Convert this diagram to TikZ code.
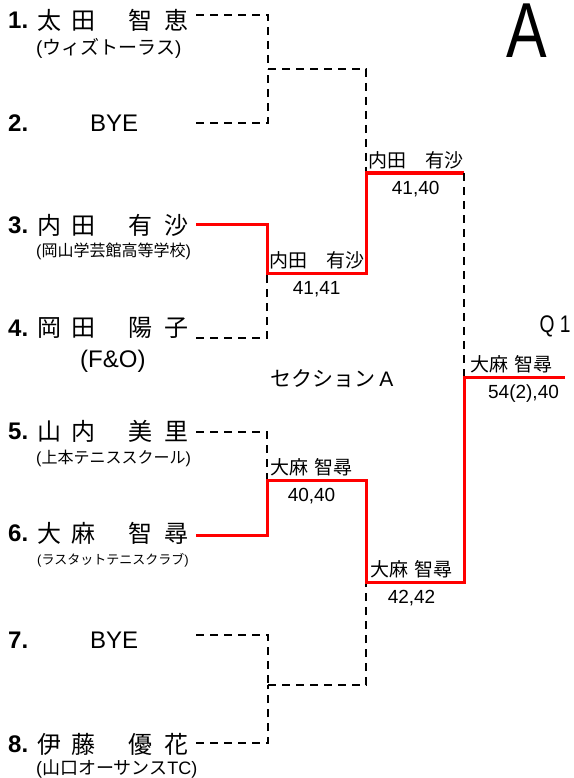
\documentclass[tikz,border=0pt]{standalone}
\usepackage{fontspec}
\setmainfont{Liberation Sans}
\newfontfamily\jp{Noto Sans CJK JP}
\usetikzlibrary{positioning}
\newcommand{\fsz}[1]{\fontsize{#1}{#1}\selectfont}
\newcommand{\pname}[4]{{\jp #1\hspace{0.45em}#2\hspace{1.35em}#3\hspace{0.5em}#4}}

\begin{document}
\begin{tikzpicture}[x=1pt,y=-1pt,
  win/.style={red,line width=3pt},
  lose/.style={black,line width=2.3pt,dash pattern=on 8pt off 6pt},
  num/.style={inner sep=0pt,anchor=west,font=\fsz{24}\bfseries},
  pnm/.style={inner sep=0pt,anchor=west,font=\fsz{24}},
  club/.style={inner sep=0pt,anchor=west},
  wname/.style={inner sep=0pt,font=\fsz{19}\jp},
  score/.style={inner sep=0pt,font=\fsz{19}}]
\useasboundingbox (0,0) rectangle (573,778);

% players
\node[num] (k1) at (8,20) {1.};
\node[pnm] (n1) at (37,20) {\pname{太}{田}{智}{恵}};
\node[club,font=\fsz{19}] (c1) at (36,48) {(\jp ウィズトーラス\rm)};
\node[num] (k2) at (8,123) {2.};
\node[pnm] (n2) at (90,123) {BYE};
\node[num] (k3) at (8,225) {3.};
\node[pnm] (n3) at (37,225) {\pname{内}{田}{有}{沙}};
\node[club,font=\fsz{16}] (c3) at (36,251) {(\jp 岡山学芸館高等学校\rm)};
\node[num] (k4) at (8,328) {4.};
\node[pnm] (n4) at (37,328) {\pname{岡}{田}{陽}{子}};
\node[club,font=\fsz{24}] (c4) at (80,361) {(F\&O)};
\node[num] (k5) at (8,431) {5.};
\node[pnm] (n5) at (37,431) {\pname{山}{内}{美}{里}};
\node[club,font=\fsz{16}] (c5) at (36,458) {(\jp 上本テニススクール\rm)};
\node[num] (k6) at (8,533) {6.};
\node[pnm] (n6) at (37,533) {\pname{大}{麻}{智}{尋}};
\node[club,font=\fsz{13}] (c6) at (37,560) {(\jp ラスタットテニスクラブ\rm)};
\node[num] (k7) at (8,640) {7.};
\node[pnm] (n7) at (90,640) {BYE};
\node[num] (k8) at (8,744) {8.};
\node[pnm] (n8) at (37,744) {\pname{伊}{藤}{優}{花}};
\node[club,font=\fsz{18}] (c8) at (36,769) {(\jp 山口オーサンス\rm TC)};

% line ends and junctions
\coordinate (e1) at (196,15);
\coordinate (e2) at (196,123);
\coordinate (e3) at (196,224);
\coordinate (e4) at (196,338);
\coordinate (e5) at (196,432);
\coordinate (e6) at (196,535);
\coordinate (e7) at (196,635);
\coordinate (e8) at (196,743);
\coordinate (m1) at (268,69);
\coordinate (m2) at (267,273);
\coordinate (m3) at (267,480);
\coordinate (m4) at (268,685);
\coordinate (s1) at (366,173);
\coordinate (s2) at (366,582);
\coordinate (f) at (464,377);
\coordinate (q) at (565,377);

\draw[lose] (e1) -| (m1);
\draw[lose] (e2) -| (m1);
\draw[lose] (m1) -| (s1);
\draw[lose] (e4) -| (m2);
\draw[win] (e3) -| (m2) -| (s1) -- (s1 -| f);
\draw[lose] (s1 -| f) -- (f);
\draw[lose] (e5) -| (m3);
\draw[lose] (e7) -| (m4);
\draw[lose] (e8) -| (m4);
\draw[lose] (m4) -| (s2);
\draw[win] (e6) -| (m3) -| (s2) -| (f) -- (q);

% winners and scores
\node[wname,anchor=south west,above right=4pt and 2pt of m2] (w1) {内田\hspace{1em}有沙};
\node[score,below=12pt of w1] (r1) {41,41};
\node[wname,anchor=south west,above right=4pt and 2pt of s1] (w2) {内田\hspace{1em}有沙};
\node[score,below=12pt of w2] (r2) {41,40};
\node[wname,anchor=south west,above right=4pt and 3pt of m3] (w3) {大麻\hspace{0.35em}智尋};
\node[score,below=12pt of w3] (r3) {40,40};
\node[wname,anchor=south west,above right=4pt and 4pt of s2] (w4) {大麻\hspace{0.35em}智尋};
\node[score,below=12pt of w4] (r4) {42,42};
\node[wname,anchor=south west,above right=4pt and 6pt of f] (w5) {大麻\hspace{0.35em}智尋};
\node[score,below=12pt of w5,xshift=12pt] (r5) {54(2),40};

\node[inner sep=0pt,font=\fsz{21}] (sec) at (332,379) {{\jp セクション}\,A};
\node[inner sep=0pt,font=\fsz{24},xscale=0.8] (qq) at (555,326) {Q 1};
\node[inner sep=0pt,font=\fsz{78},xscale=0.78,anchor=north] (big) at (527,4) {A};
\end{tikzpicture}
\end{document}
